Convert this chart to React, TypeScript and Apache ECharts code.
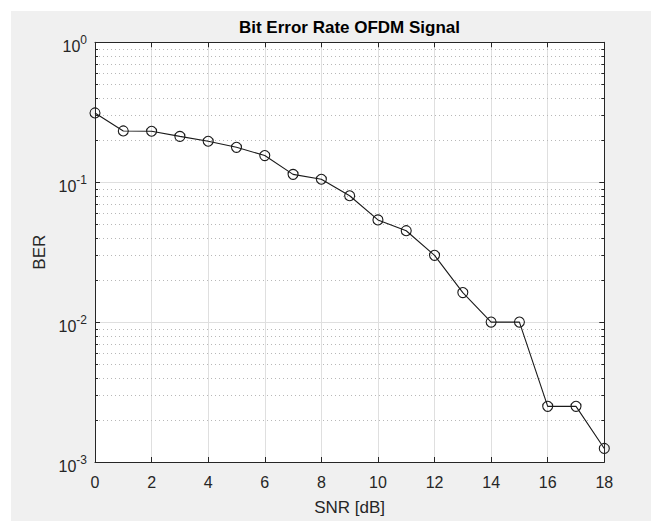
import React, { useEffect, useRef } from "react";
import * as echarts from "echarts";

const titleText = "Bit Error Rate OFDM Signal";
const xName = "SNR [dB]";
const yName = "BER";
const snr = [0, 1, 2, 3, 4, 5, 6, 7, 8, 9, 10, 11, 12, 13, 14, 15, 16, 17, 18];
const ber = [
  0.3125, 0.2325, 0.2313, 0.2125, 0.19625, 0.1775, 0.155, 0.11375, 0.105, 0.08,
  0.05375, 0.045, 0.03, 0.01625, 0.01, 0.01, 0.0025, 0.0025, 0.00125,
];
const decadeBases = [0.001, 0.01, 0.1];
const minorMultipliers = [2, 3, 4, 5, 6, 7, 8, 9];

export default function App() {
  const ref = useRef<HTMLDivElement>(null);
  useEffect(() => {
    const chart = echarts.init(ref.current!, null, { renderer: "svg" });
    const font = "'Liberation Sans', Arial, Helvetica, sans-serif";
    const axisColor = "#262626";
    const minorValues = decadeBases.flatMap((b) =>
      minorMultipliers.map((m) => +(b * m).toPrecision(3))
    );
    const lineStyle = { color: axisColor, width: 1 };
    chart.setOption({
      animation: false,
      backgroundColor: "transparent",
      textStyle: { fontFamily: font },
      grid: {
        left: 84,
        top: 31.3,
        right: 46.7,
        bottom: 53.7,
        show: true,
        backgroundColor: "#ffffff",
        borderWidth: 0,
      },
      graphic: [
        {
          type: "text",
          x: 338.5,
          y: 16,
          style: {
            text: titleText,
            font: `bold 17px ${font}`,
            fill: "#000000",
            textAlign: "center",
            textVerticalAlign: "middle",
          },
        },
      ],
      xAxis: [
        {
          type: "value",
          min: 0,
          max: 18,
          interval: 2,
          position: "bottom",
          name: xName,
          nameLocation: "middle",
          nameGap: 37,
          nameTextStyle: { fontSize: 17, color: axisColor, fontFamily: font },
          axisLine: { show: true, onZero: false, lineStyle },
          axisTick: { show: true, inside: true, length: 5, lineStyle },
          axisLabel: { fontSize: 16, color: axisColor, margin: 12, fontFamily: font },
          splitLine: { show: true, lineStyle: { color: "#dfdfdf", width: 1 } },
        },
        {
          type: "value",
          min: 0,
          max: 18,
          interval: 2,
          position: "top",
          axisLine: { show: true, onZero: false, lineStyle },
          axisTick: { show: true, inside: true, length: 5, lineStyle },
          axisLabel: { show: false },
          splitLine: { show: false },
        },
      ],
      yAxis: [
        {
          type: "log",
          logBase: 10,
          min: 0.001,
          max: 1,
          position: "left",
          name: yName,
          nameLocation: "middle",
          nameGap: 43.5,
          nameTextStyle: { fontSize: 17, color: axisColor, fontFamily: font },
          axisLine: { show: true, onZero: false, lineStyle },
          axisTick: { show: true, inside: true, length: 5, lineStyle },
          axisLabel: {
            margin: 8,
            color: axisColor,
            formatter: (v: number) => `{b|10}{e|${Math.round(Math.log10(v))}}`,
            rich: {
              b: { fontSize: 16, lineHeight: 16, padding: [9, 0, 0, 0], color: axisColor, fontFamily: font },
              e: { fontSize: 12, lineHeight: 12, padding: [4, 0, 9, 0], color: axisColor, fontFamily: font },
            },
          },
          splitLine: { show: true, lineStyle: { color: "#dfdfdf", width: 1 } },
        },
        {
          type: "log",
          logBase: 10,
          min: 0.001,
          max: 1,
          position: "right",
          axisLine: { show: true, onZero: false, lineStyle },
          axisTick: { show: true, inside: true, length: 5, lineStyle },
          axisLabel: { show: false },
          splitLine: { show: false },
        },
      ],
      series: [
        {
          type: "custom",
          xAxisIndex: 0,
          yAxisIndex: 0,
          silent: true,
          z: 1,
          data: minorValues.map((v) => [0, v]),
          renderItem: (params: any, api: any) => {
            const cs = params.coordSys;
            const y = Math.round(api.coord([0, api.value(1)])[1]) + 0.5;
            return {
              type: "group",
              children: [
                {
                  type: "line",
                  shape: { x1: cs.x, y1: y, x2: cs.x + cs.width, y2: y },
                  style: { stroke: "#b8b8b8", lineWidth: 1, lineDash: [1, 3] },
                },
                {
                  type: "line",
                  shape: { x1: cs.x, y1: y, x2: cs.x + 3, y2: y },
                  style: { stroke: axisColor, lineWidth: 1 },
                },
                {
                  type: "line",
                  shape: { x1: cs.x + cs.width - 3, y1: y, x2: cs.x + cs.width, y2: y },
                  style: { stroke: axisColor, lineWidth: 1 },
                },
              ],
            };
          },
        },
        {
          type: "line",
          xAxisIndex: 0,
          yAxisIndex: 0,
          z: 3,
          data: snr.map((x, i) => [x, ber[i]]),
          symbol: "circle",
          symbolSize: 10,
          lineStyle: { color: "#1a1a1a", width: 1.1 },
          itemStyle: { color: "rgba(0,0,0,0)", borderColor: "#1a1a1a", borderWidth: 1.1 },
        },
      ],
    });
    return () => chart.dispose();
  }, []);
  return (
    <div style={{ position: "absolute", left: 0, top: 0, width: 651, height: 521, background: "#ffffff" }}>
      <div
        ref={ref}
        style={{ position: "absolute", left: 11, top: 11, width: 640, height: 510, background: "#f0f0f0" }}
      />
    </div>
  );
}
